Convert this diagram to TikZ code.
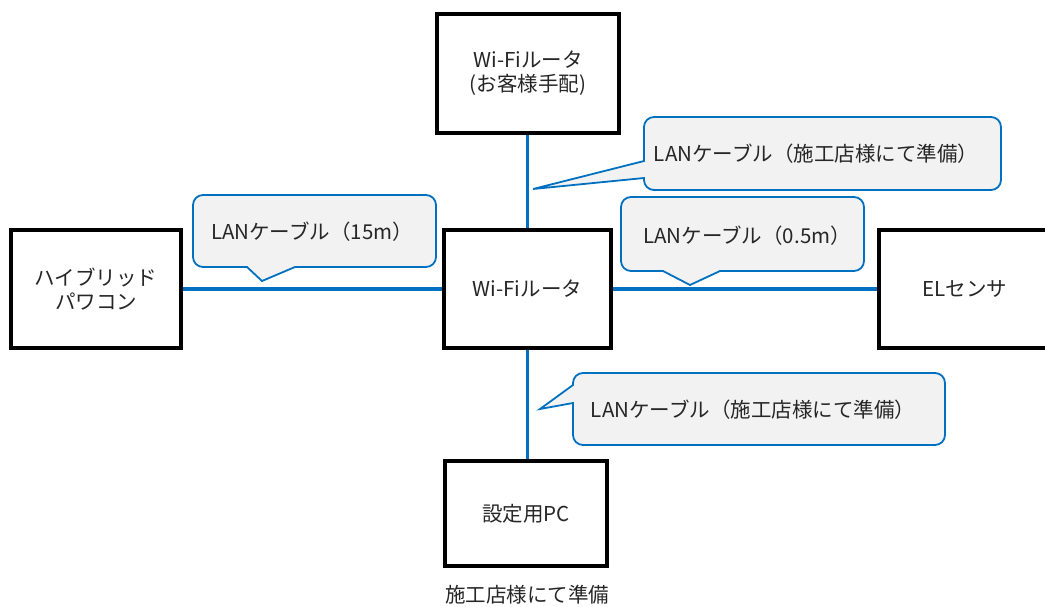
\documentclass[tikz,border=0pt]{standalone}
\usepackage{fontspec}
\setmainfont{Noto Sans CJK JP}
\definecolor{lanblue}{HTML}{0070C0}
\definecolor{bubblefill}{HTML}{F2F2F2}
\definecolor{textgray}{HTML}{262626}
\begin{document}
\begin{tikzpicture}[x=1pt,y=-1pt,
  box/.style={draw=black, line width=3.8pt, fill=white, align=center, inner sep=0pt},
  lan/.style={draw=lanblue, line width=3.5pt},
  bubble/.style={draw=lanblue, line width=1.8pt, fill=bubblefill},
  txt/.style={text=textgray, font=\fontsize{20.5}{24}\selectfont, align=center}]
\useasboundingbox (0,0) rectangle (1045,606);
\begin{scope}
\clip (0,0) rectangle (1045,606);
% boxes
\node[box, txt, minimum width=170pt, minimum height=118pt] (pwr) at (96,289) {ハイブリッド\\パワコン};
\node[box, txt, minimum width=167pt, minimum height=118pt] (router) at (527.5,289) {Wi-Fiルータ};
\node[box, txt, minimum width=182pt, minimum height=119pt] (top) at (528,73.5) {Wi-Fiルータ\\(お客様手配)};
\node[box, txt, minimum width=172pt, minimum height=118pt] (el) at (965,289) {ELセンサ};
\node[box, txt, minimum width=162pt, minimum height=105pt] (pc) at (526,513.5) {設定用PC};
\node[txt] (note) at (527,595) {施工店様にて準備};
% connectors
\draw[lan] (router.north) -- (router.north |- top.south);
\draw[lan] (pwr.east) -- (router.west);
\draw[lan] (router.east) -- (el.west);
\draw[lan] (router.south) -- (router.south |- pc.north);
% callout 1 (15m)
\draw[bubble] (247,267) [rounded corners=10pt] -- (193,267) -- (193,195) -- (436,195) -- (436,267) [sharp corners] -- (295,267) -- (262,281) -- cycle;
\node[txt] (c1) at (312,232) {LANケーブル（15m）};
% callout 2 (top)
\draw[bubble] (644,161) [rounded corners=10pt] -- (644,117) -- (1001,117) -- (1001,190) -- (644,190) [sharp corners] -- (644,178) -- (533,189) -- cycle;
\node[txt] (c2) at (816,154) {LANケーブル（施工店様にて準備）};
% callout 3 (0.5m)
\draw[bubble] (663,271) [rounded corners=10pt] -- (621,271) -- (621,197) -- (864,197) -- (864,271) [sharp corners] -- (720,271) -- (690,285) -- cycle;
\node[txt] (c3) at (747,236) {LANケーブル（0.5m）};
% callout 4 (bottom)
\draw[bubble] (573,385) [rounded corners=10pt] -- (573,373) -- (945,373) -- (945,445) -- (573,445) [sharp corners] -- (573,403) -- (540,409) -- cycle;
\node[txt] (c4) at (753,410) {LANケーブル（施工店様にて準備）};
\end{scope}
\end{tikzpicture}
\end{document}
